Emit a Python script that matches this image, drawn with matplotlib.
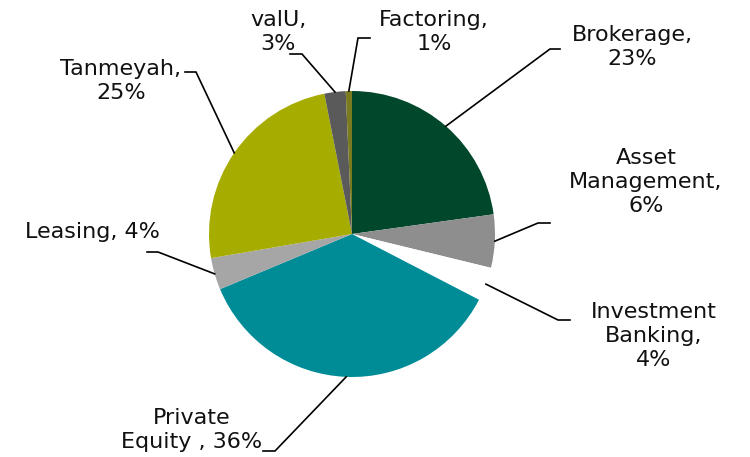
import numpy as np
import matplotlib.pyplot as plt

# slice shares and the printed labels
segments = ['Brokerage', 'Asset Management', 'Investment Banking', 'Private Equity',
            'Leasing', 'Tanmeyah', 'valU', 'Factoring']
shares = [22.8, 6.0, 3.8, 36.1, 3.6, 24.6, 2.4, 0.7]
pct_labels = ['23%', '6%', '4%', '36%', '4%', '25%', '3%', '1%']
label_text = ['Brokerage,\n23%', 'Asset\nManagement,\n6%', 'Investment\nBanking,\n4%',
              'Private\nEquity , 36%', 'Leasing, 4%', 'Tanmeyah,\n25%', 'valU,\n3%',
              'Factoring,\n1%']
colors = ['#00472b', '#8e8e8e', '#ffffff', '#008c96', '#a6a6a6', '#a6ac00', '#5a5a5a', '#7a7a1e']

W, H = 750, 457
fig = plt.figure(figsize=(7.5, 4.57), dpi=100)
ax = fig.add_axes([0, 0, 1, 1])

cx, cy, r = 352, H - 234, 143
wedges, _ = ax.pie(shares, colors=colors, startangle=90, counterclock=False,
                   center=(cx, cy), radius=r, frame=True,
                   wedgeprops=dict(linewidth=0))
ax.set_xlim(0, W)
ax.set_ylim(0, H)
ax.set_aspect('auto')
ax.axis('off')

# label placement (pixel coords, y from top): text centre, elbow, end of horizontal tick
text_pos = [(632, 47), (646, 182), (654, 336), (192, 430), (92, 232), (121, 81), (278, 32), (434, 32)]
elbow = [(550, 49), (538, 223), (558, 320), (275, 451), (158, 252), (196, 72), (302, 54), (358, 38)]
tick_end = [(560, 49), (550, 223), (570, 320), (263, 451), (147, 252), (185, 72), (290, 54), (370, 38)]

for i, w in enumerate(wedges):
    mid = np.deg2rad((w.theta1 + w.theta2) / 2)
    sx, sy = cx + r * np.cos(mid), cy + r * np.sin(mid)
    ex, ey = elbow[i]
    tx, ty = tick_end[i]
    ax.plot([sx, ex, tx], [sy, H - ey, H - ty], color='black', lw=1.2,
            solid_joinstyle='miter')
    px, py = text_pos[i]
    ax.text(px, H - py, label_text[i], ha='center', va='center', fontsize=16,
            color='#111111', linespacing=1.25, family='DejaVu Sans')

fig.savefig('out.png', dpi=100)
